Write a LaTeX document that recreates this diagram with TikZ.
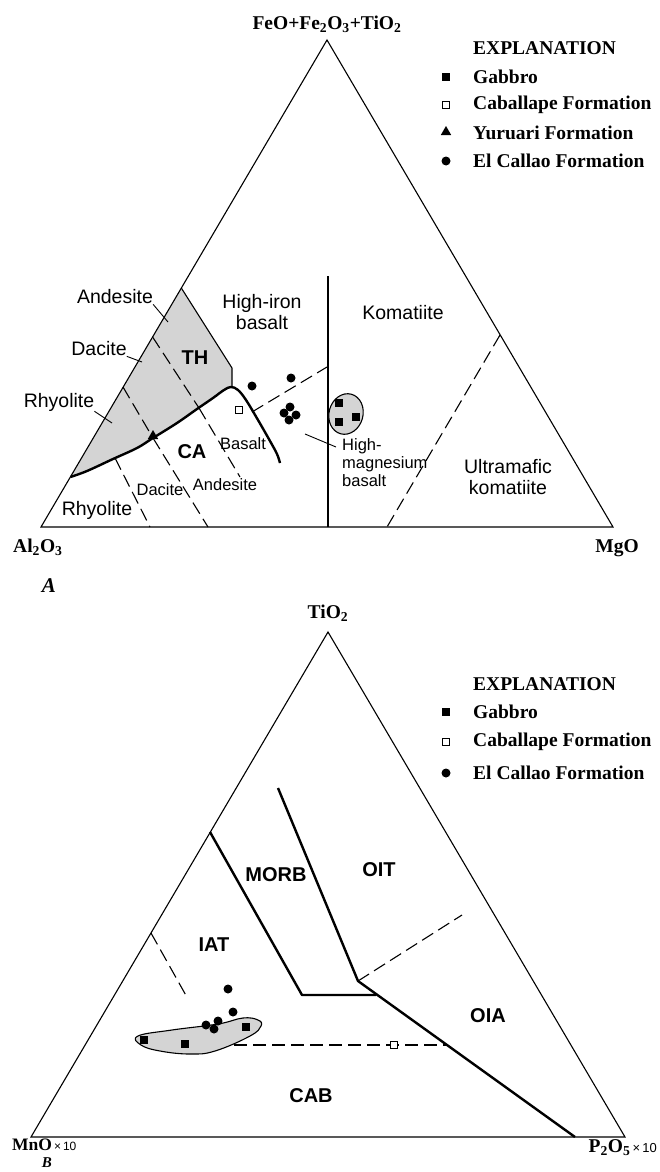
\documentclass[tikz,border=0pt]{standalone}
\usepackage{fontspec}
\setmainfont{Liberation Serif}
\setsansfont{Liberation Sans}
\usetikzlibrary{shapes.geometric,positioning}

\newcommand{\regfont}{\sffamily\fontsize{19.5}{21}\selectfont}
\newcommand{\sregfont}{\sffamily\fontsize{16.5}{18}\selectfont}
\newcommand{\bregfont}{\sffamily\bfseries\fontsize{20}{22}\selectfont}
\newcommand{\axfont}{\rmfamily\bfseries\fontsize{19.5}{21}\selectfont}

\tikzset{
  edgeln/.style={line width=1.1pt},
  bound/.style={line width=2.4pt, line join=round},
  dashln/.style={line width=1.1pt, dash pattern=on 13pt off 6pt},
  stipple/.style={fill=black!17},
  gab/.style={rectangle, fill=black, minimum size=8pt, inner sep=0pt},
  cab/.style={rectangle, draw=black, fill=white, line width=0.9pt, minimum size=7.5pt, inner sep=0pt},
  elc/.style={circle, fill=black, minimum size=9pt, inner sep=0pt},
  yur/.style={regular polygon, regular polygon sides=3, fill=black, minimum size=12pt, inner sep=0pt},
  reg/.style={font=\regfont, align=center, inner sep=0pt},
  sreg/.style={font=\sregfont, align=center, inner sep=0pt},
  breg/.style={font=\bregfont, inner sep=0pt},
  ax/.style={font=\axfont, inner sep=0pt},
  leg/.style={font=\axfont, anchor=west, inner sep=0pt},
  fig/.style={font=\rmfamily\bfseries\itshape\fontsize{21}{23}\selectfont, inner sep=0pt}
}

\begin{document}
\begin{tikzpicture}[x=1pt, y=-1pt]
  \useasboundingbox (0,0) rectangle (659,1172);

  % ---------------- diagram A ----------------
  \coordinate (a1) at (41,527);
  \coordinate (a2) at (613,527);
  \coordinate (a3) at (327,40);

  \fill[stipple] (181.3,288) -- (232,368) -- (232,387) -- plot[smooth] coordinates {(224,390) (213,398) (197,409) (177,423) (153,438) (137,448) (113,459) (87,471) (70.4,477)} -- cycle;

  \draw[edgeln] (a1) -- (a2) -- (a3) -- cycle;
  \draw[edgeln] (181.3,288) -- (232,368) -- (232,387);
  \draw[bound] plot[smooth, tension=0.6] coordinates {(70.4,477) (87,471) (113,459) (137,448) (153,438) (177,423) (197,409) (213,398) (224,390) (231,387) (238,390) (246,400) (258,420) (270,441) (277,454) (280,463)};
  \draw[bound] (328,527) -- (328,276);

  \begin{scope}[every path/.style={dashln}]
    \draw (152.6,337) -- (199,408);
    \draw (123,387) -- (153,438);
    \draw (115,458) -- (150,527);
    \draw (153,438) -- (208,527);
    \draw (199,408) -- (240,477);
    \draw (252,412) -- (327,367);
    \draw (500,335) -- (387,527);
  \end{scope}

  \node[ellipse, draw, stipple, line width=1.1pt, minimum width=34pt, minimum height=41pt, rotate=-15] (gblob) at (346,414) {};

  \begin{scope}[every node/.style={elc}]
    \node (d1) at (252,386) {};
    \node (d2) at (291,378) {};
    \node (d3) at (290,407) {};
    \node (d4) at (284,413) {};
    \node (d5) at (296,415) {};
    \node (d6) at (289,420) {};
  \end{scope}
  \node[cab] (c1) at (239,410) {};
  \node[yur] (y1) at (153,436) {};
  \begin{scope}[every node/.style={gab}]
    \node (g1) at (339,403) {};
    \node (g2) at (339,422) {};
    \node (g3) at (356,417) {};
  \end{scope}

  \node[reg] (kom) at (403,313) {Komatiite};
  \node[reg] (ukom) at (508,477) {Ultramafic\\komatiite};
  \node[reg] (hib) at (262,312) {High-iron\\basalt};
  \node[sreg, align=left, anchor=north west] (hmb) at (342,438) {High-\\magnesium\\basalt};
  \node[breg] (th) at (195,358) {TH};
  \node[breg] (ca) at (192,452) {CA};
  \node[sreg] (bas) at (243,444) {Basalt};
  \node[reg] (andu) at (115,297) {Andesite};
  \node[reg] (dacu) at (99,349) {Dacite};
  \node[reg] (rhyu) at (59,402) {Rhyolite};
  \node[reg] (rhyl) at (97,510) {Rhyolite};
  \node[sreg] (dacl) at (160,490) {Dacite};
  \node[sreg] (andl) at (225,485) {Andesite};

  \coordinate (pand) at (168,322);
  \coordinate (pdac) at (142,362);
  \coordinate (prhy) at (112,423);
  \coordinate (phmb) at (305,434);
  \draw[line width=0.9pt] (andu.south east) -- (pand);
  \draw[line width=0.9pt] (dacu.south east) -- (pdac);
  \draw[line width=0.9pt] (rhyu.south east) -- (prhy);
  \draw[line width=0.9pt] (phmb) -- ([shift={(-6,9)}]hmb.north west);

  \node[ax] (feo) at (327,24) {FeO+Fe\textsubscript{2}O\textsubscript{3}+TiO\textsubscript{2}};
  \node[ax, anchor=west] (al) at (13,547) {Al\textsubscript{2}O\textsubscript{3}};
  \node[ax] (mg) at (617,548) {MgO};
  \node[fig] (lA) at (49,586) {A};

  \node[leg] (ex1) at (473,48) {EXPLANATION};
  \node[leg] (t11) at (473,77) {Gabbro};
  \node[leg] (t12) at (473,105) {Caballape Formation};
  \node[leg] (t13) at (473,133) {Yuruari Formation};
  \node[leg] (t14) at (473,161) {El Callao Formation};
  \node[gab] (m11) at (446,77) {};
  \node[cab] (m12) at (446,105) {};
  \node[yur] (m13) at (446,132) {};
  \node[elc] (m14) at (446,161) {};

  % ---------------- diagram B ----------------
  \coordinate (b1) at (31,1137);
  \coordinate (b2) at (625,1137);
  \coordinate (b3) at (328,632);

  \draw[edgeln] (b1) -- (b2) -- (b3) -- cycle;
  \draw[bound] (210,832) -- (302,995) -- (376,995);
  \draw[bound] (278,788) -- (358,981) -- (575,1137);
  \begin{scope}[every path/.style={dashln}]
    \draw (358,981) -- (462,915);
    \draw (151,933) -- (188,999);
    \draw (234,1045) -- (447,1045);
  \end{scope}

  \draw[stipple, draw=black, line width=1.1pt] plot[smooth cycle, tension=0.7] coordinates {(138,1036) (172,1030) (218,1024) (243,1018) (258,1020) (261,1026) (250,1036) (215,1051) (190,1054) (160,1051) (141,1045)};

  \node[cab] (c2) at (394,1045) {};
  \begin{scope}[every node/.style={gab}]
    \node (g4) at (144,1040) {};
    \node (g5) at (185,1044) {};
    \node (g6) at (246,1027) {};
  \end{scope}
  \begin{scope}[every node/.style={elc}]
    \node (d7) at (228,989) {};
    \node (d8) at (233,1012) {};
    \node (d9) at (206,1025) {};
    \node (d10) at (214,1029) {};
    \node (d11) at (218,1021) {};
  \end{scope}

  \node[breg] (iat) at (214,945) {IAT};
  \node[breg] (cab) at (311,1096) {CAB};
  \node[breg] (oia) at (488,1016) {OIA};
  \node[breg] (morb) at (276,875) {MORB};
  \node[breg] (oit) at (379,870) {OIT};

  \node[ax] (ti) at (328,613) {TiO\textsubscript{2}};
  \node[ax, anchor=west, font=\rmfamily\bfseries\fontsize{17.5}{19}\selectfont] (mn) at (12,1145) {MnO{\sffamily\mdseries\fontsize{12}{13}\selectfont\,×\,10}};
  \node[ax, anchor=east] (p) at (657,1148) {P\textsubscript{2}O\textsubscript{5}{\sffamily\mdseries\fontsize{13}{14}\selectfont\,×\,10}};
  \node[fig, font=\rmfamily\bfseries\itshape\fontsize{15}{16}\selectfont] (lB) at (47,1163) {B};

  \node[leg] (ex2) at (473,684) {EXPLANATION};
  \node[leg] (t21) at (473,712) {Gabbro};
  \node[leg] (t22) at (473,742) {Caballape Formation};
  \node[leg] (t23) at (473,773) {El Callao Formation};
  \node[gab] (m21) at (446,712) {};
  \node[cab] (m22) at (446,742) {};
  \node[elc] (m23) at (446,773) {};
\end{tikzpicture}
\end{document}
